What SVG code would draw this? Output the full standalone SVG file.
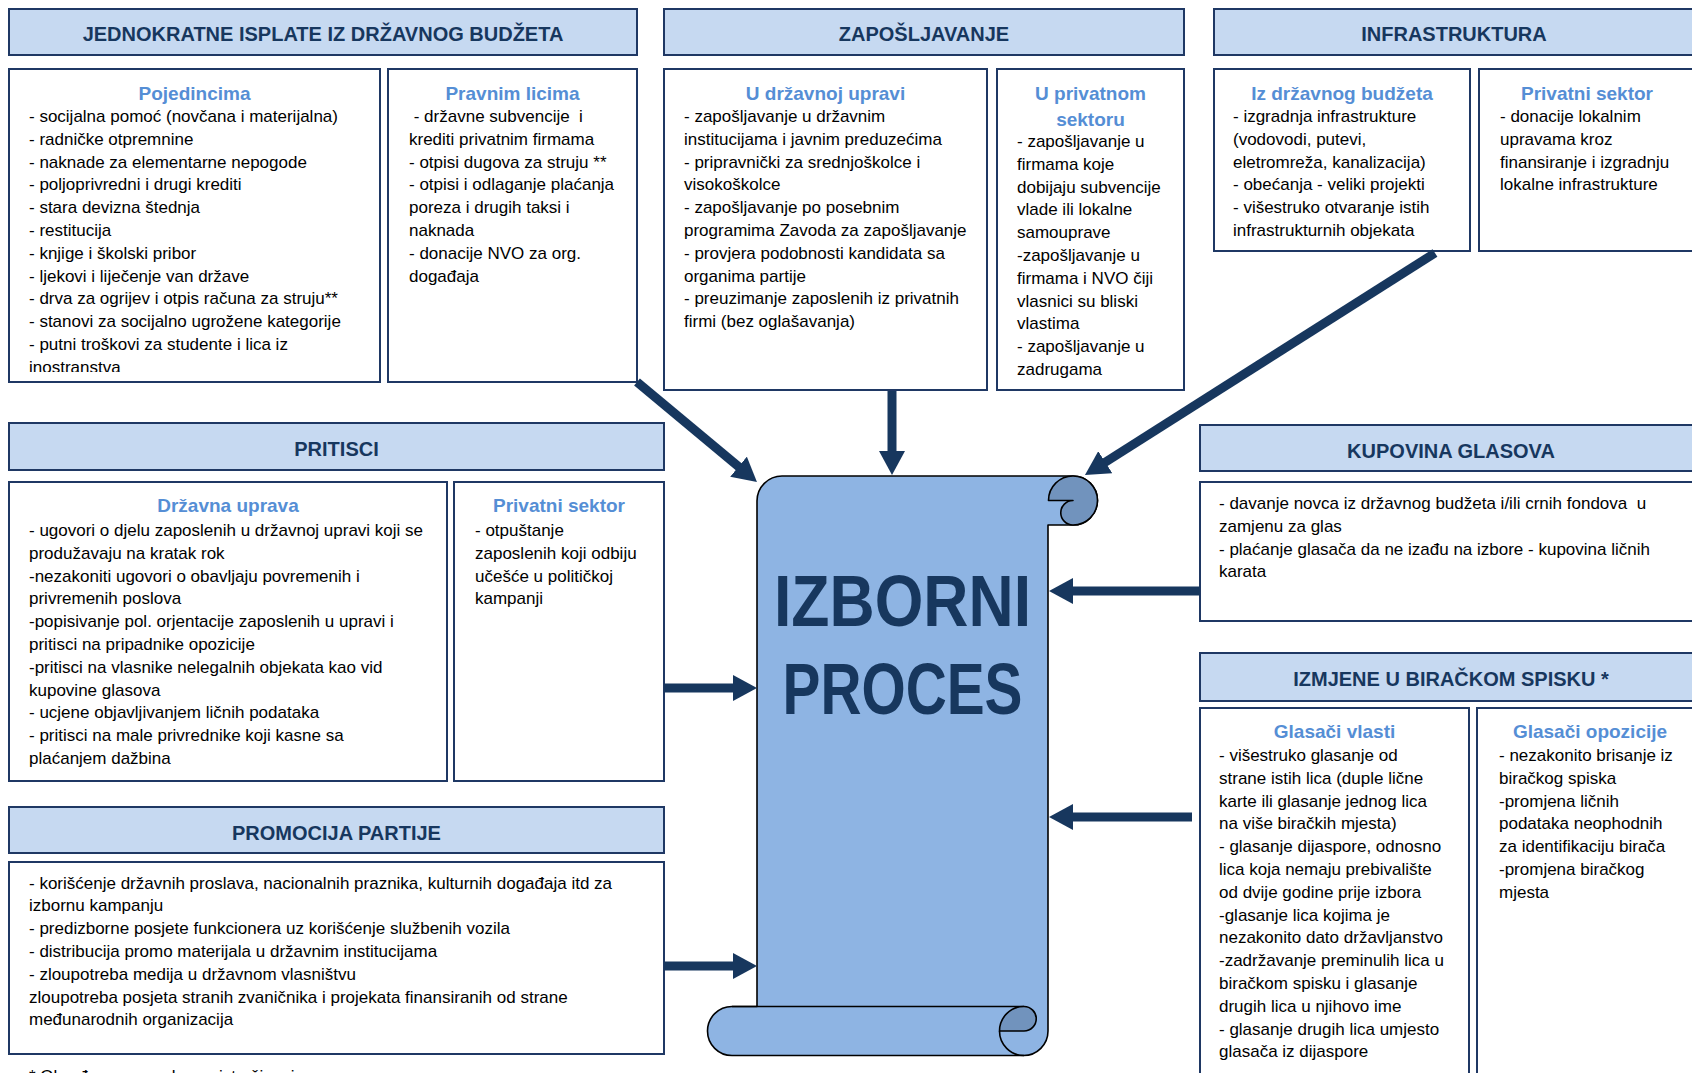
<svg xmlns="http://www.w3.org/2000/svg" width="1692" height="1073" viewBox="0 0 1692 1073">
<style>
.hdr{fill:#c6d9f1;stroke:#1f3864;stroke-width:2}
.box{fill:#ffffff;stroke:#1f3864;stroke-width:2}
.ht{font-family:"Liberation Sans",Arial,sans-serif;font-weight:bold;font-size:20px;fill:#17375e;text-anchor:middle}
.st{font-family:"Liberation Sans",Arial,sans-serif;font-weight:bold;font-size:19px;fill:#558ed5;text-anchor:middle}
.tx{font-family:"Liberation Sans",Arial,sans-serif;font-size:17px;fill:#000000}
.big{font-family:"Liberation Sans",Arial,sans-serif;font-weight:bold;font-size:72px;fill:#17375e;text-anchor:middle}
.conn line{stroke:#17375e;stroke-width:9;fill:none}
.scroll{fill:#8eb4e3;stroke:#000;stroke-width:1.6;stroke-linejoin:round}
.curl{fill:#7193bd;stroke:#000;stroke-width:1.6;stroke-linejoin:round}
.sl{fill:none;stroke:#000;stroke-width:1.6}
</style>
<defs>
<marker id="ah" markerUnits="userSpaceOnUse" markerWidth="26" markerHeight="26" refX="1" refY="13" orient="auto">
<path d="M0,0 L24,13 L0,26 Z" fill="#17375e"/>
</marker>
<clipPath id="clipPoj"><rect x="10" y="70" width="369" height="302"/></clipPath>
</defs>

<rect width="1692" height="1073" fill="#ffffff"/>

<g id="jednokratne">
<rect class="hdr" x="9" y="9" width="628" height="46"/>
<text class="ht" x="323" y="41">JEDNOKRATNE ISPLATE IZ DRŽAVNOG BUDŽETA</text>
</g>

<g id="pojedincima">
<rect class="box" x="9" y="69" width="371" height="313"/>
<text class="st" x="194.5" y="100">Pojedincima</text>
<text class="tx" clip-path="url(#clipPoj)">
<tspan x="29" y="122">- socijalna pomoć (novčana i materijalna)</tspan>
<tspan x="29" dy="22.8">- radničke otpremnine</tspan>
<tspan x="29" dy="22.8">- naknade za elementarne nepogode</tspan>
<tspan x="29" dy="22.8">- poljoprivredni i drugi krediti</tspan>
<tspan x="29" dy="22.8">- stara devizna štednja</tspan>
<tspan x="29" dy="22.8">- restitucija</tspan>
<tspan x="29" dy="22.8">- knjige i školski pribor</tspan>
<tspan x="29" dy="22.8">- ljekovi i liječenje van države</tspan>
<tspan x="29" dy="22.8">- drva za ogrijev i otpis računa za struju**</tspan>
<tspan x="29" dy="22.8">- stanovi za socijalno ugrožene kategorije</tspan>
<tspan x="29" dy="22.8">- putni troškovi za studente i lica iz</tspan>
<tspan x="29" dy="22.8">inostranstva</tspan>
</text>
</g>

<g id="pravnim-licima">
<rect class="box" x="388" y="69" width="249" height="313"/>
<text class="st" x="512.5" y="100">Pravnim licima</text>
<text class="tx" xml:space="preserve">
<tspan x="409" y="122"> - državne subvencije  i</tspan>
<tspan x="409" dy="22.8">krediti privatnim firmama</tspan>
<tspan x="409" dy="22.8">- otpisi dugova za struju **</tspan>
<tspan x="409" dy="22.8">- otpisi i odlaganje plaćanja</tspan>
<tspan x="409" dy="22.8">poreza i drugih taksi i</tspan>
<tspan x="409" dy="22.8">naknada</tspan>
<tspan x="409" dy="22.8">- donacije NVO za org.</tspan>
<tspan x="409" dy="22.8">događaja</tspan>
</text>
</g>

<g id="zaposljavanje">
<rect class="hdr" x="664" y="9" width="520" height="46"/>
<text class="ht" x="924" y="41">ZAPOŠLJAVANJE</text>
</g>

<g id="u-drzavnoj-upravi">
<rect class="box" x="664" y="69" width="323" height="321"/>
<text class="st" x="825.5" y="100">U državnoj upravi</text>
<text class="tx">
<tspan x="684" y="122">- zapošljavanje u državnim</tspan>
<tspan x="684" dy="22.8">institucijama i javnim preduzećima</tspan>
<tspan x="684" dy="22.8">- pripravnički za srednjoškolce i</tspan>
<tspan x="684" dy="22.8">visokoškolce</tspan>
<tspan x="684" dy="22.8">- zapošljavanje po posebnim</tspan>
<tspan x="684" dy="22.8">programima Zavoda za zapošljavanje</tspan>
<tspan x="684" dy="22.8">- provjera podobnosti kandidata sa</tspan>
<tspan x="684" dy="22.8">organima partije</tspan>
<tspan x="684" dy="22.8">- preuzimanje zaposlenih iz privatnih</tspan>
<tspan x="684" dy="22.8">firmi (bez oglašavanja)</tspan>
</text>
</g>

<g id="u-privatnom-sektoru">
<rect class="box" x="997" y="69" width="187" height="321"/>
<text class="st"><tspan x="1090.5" y="100">U privatnom</tspan><tspan x="1090.5" y="125.5">sektoru</tspan></text>
<text class="tx">
<tspan x="1017" y="147">- zapošljavanje u</tspan>
<tspan x="1017" dy="22.8">firmama koje</tspan>
<tspan x="1017" dy="22.8">dobijaju subvencije</tspan>
<tspan x="1017" dy="22.8">vlade ili lokalne</tspan>
<tspan x="1017" dy="22.8">samouprave</tspan>
<tspan x="1017" dy="22.8">-zapošljavanje u</tspan>
<tspan x="1017" dy="22.8">firmama i NVO čiji</tspan>
<tspan x="1017" dy="22.8">vlasnici su bliski</tspan>
<tspan x="1017" dy="22.8">vlastima</tspan>
<tspan x="1017" dy="22.8">- zapošljavanje u</tspan>
<tspan x="1017" dy="22.8">zadrugama</tspan>
</text>
</g>

<g id="infrastruktura">
<rect class="hdr" x="1214" y="9" width="490" height="46"/>
<text class="ht" x="1454" y="41">INFRASTRUKTURA</text>
</g>

<g id="iz-drzavnog-budzeta">
<rect class="box" x="1214" y="69" width="256" height="182"/>
<text class="st" x="1342" y="100">Iz državnog budžeta</text>
<text class="tx">
<tspan x="1233" y="122">- izgradnja infrastrukture</tspan>
<tspan x="1233" dy="22.8">(vodovodi, putevi,</tspan>
<tspan x="1233" dy="22.8">eletromreža, kanalizacija)</tspan>
<tspan x="1233" dy="22.8">- obećanja - veliki projekti</tspan>
<tspan x="1233" dy="22.8">- višestruko otvaranje istih</tspan>
<tspan x="1233" dy="22.8">infrastrukturnih objekata</tspan>
</text>
</g>

<g id="infra-privatni-sektor">
<rect class="box" x="1479" y="69" width="225" height="182"/>
<text class="st" x="1587" y="100">Privatni sektor</text>
<text class="tx">
<tspan x="1500" y="122">- donacije lokalnim</tspan>
<tspan x="1500" dy="22.8">upravama kroz</tspan>
<tspan x="1500" dy="22.8">finansiranje i izgradnju</tspan>
<tspan x="1500" dy="22.8">lokalne infrastrukture</tspan>
</text>
</g>

<g id="pritisci">
<rect class="hdr" x="9" y="423" width="655" height="47"/>
<text class="ht" x="336.5" y="456">PRITISCI</text>
</g>

<g id="drzavna-uprava">
<rect class="box" x="9" y="482" width="438" height="299"/>
<text class="st" x="228" y="512">Državna uprava</text>
<text class="tx">
<tspan x="29" y="536">- ugovori o djelu zaposlenih u državnoj upravi koji se</tspan>
<tspan x="29" dy="22.8">produžavaju na kratak rok</tspan>
<tspan x="29" dy="22.8">-nezakoniti ugovori o obavljaju povremenih i</tspan>
<tspan x="29" dy="22.8">privremenih poslova</tspan>
<tspan x="29" dy="22.8">-popisivanje pol. orjentacije zaposlenih u upravi i</tspan>
<tspan x="29" dy="22.8">pritisci na pripadnike opozicije</tspan>
<tspan x="29" dy="22.8">-pritisci na vlasnike nelegalnih objekata kao vid</tspan>
<tspan x="29" dy="22.8">kupovine glasova</tspan>
<tspan x="29" dy="22.8">- ucjene objavljivanjem ličnih podataka</tspan>
<tspan x="29" dy="22.8">- pritisci na male privrednike koji kasne sa</tspan>
<tspan x="29" dy="22.8">plaćanjem dažbina</tspan>
</text>
</g>

<g id="pritisci-privatni-sektor">
<rect class="box" x="454" y="482" width="210" height="299"/>
<text class="st" x="559" y="512">Privatni sektor</text>
<text class="tx">
<tspan x="475" y="536">- otpuštanje</tspan>
<tspan x="475" dy="22.8">zaposlenih koji odbiju</tspan>
<tspan x="475" dy="22.8">učešće u političkoj</tspan>
<tspan x="475" dy="22.8">kampanji</tspan>
</text>
</g>

<g id="promocija-partije">
<rect class="hdr" x="9" y="807" width="655" height="46"/>
<text class="ht" x="336.5" y="840">PROMOCIJA PARTIJE</text>
<rect class="box" x="9" y="862" width="655" height="192"/>
<text class="tx">
<tspan x="29" y="888.5">- korišćenje državnih proslava, nacionalnih praznika, kulturnih događaja itd za</tspan>
<tspan x="29" dy="22.8">izbornu kampanju</tspan>
<tspan x="29" dy="22.8">- predizborne posjete funkcionera uz korišćenje službenih vozila</tspan>
<tspan x="29" dy="22.8">- distribucija promo materijala u državnim institucijama</tspan>
<tspan x="29" dy="22.8">- zloupotreba medija u državnom vlasništvu</tspan>
<tspan x="29" dy="22.8">zloupotreba posjeta stranih zvaničnika i projekata finansiranih od strane</tspan>
<tspan x="29" dy="22.8">međunarodnih organizacija</tspan>
</text>
</g>

<g id="footnote">
<text class="tx" x="29" y="1082">* Obrađeno u posebnom istraživanju</text>
</g>

<g id="kupovina-glasova">
<rect class="hdr" x="1200" y="425" width="502" height="46"/>
<text class="ht" x="1451" y="458">KUPOVINA GLASOVA</text>
<rect class="box" x="1200" y="482" width="502" height="139"/>
<text class="tx" xml:space="preserve">
<tspan x="1219" y="509">- davanje novca iz državnog budžeta i/ili crnih fondova  u</tspan>
<tspan x="1219" dy="22.8">zamjenu za glas</tspan>
<tspan x="1219" dy="22.8">- plaćanje glasača da ne izađu na izbore - kupovina ličnih</tspan>
<tspan x="1219" dy="22.8">karata</tspan>
</text>
</g>

<g id="izmjene">
<rect class="hdr" x="1200" y="653" width="502" height="48"/>
<text class="ht" x="1451" y="685.5">IZMJENE U BIRAČKOM SPISKU *</text>
</g>

<g id="glasaci-vlasti">
<rect class="box" x="1200" y="708" width="269" height="380"/>
<text class="st" x="1334.5" y="738">Glasači vlasti</text>
<text class="tx">
<tspan x="1219" y="761">- višestruko glasanje od</tspan>
<tspan x="1219" dy="22.8">strane istih lica (duple lične</tspan>
<tspan x="1219" dy="22.8">karte ili glasanje jednog lica</tspan>
<tspan x="1219" dy="22.8">na više biračkih mjesta)</tspan>
<tspan x="1219" dy="22.8">- glasanje dijaspore, odnosno</tspan>
<tspan x="1219" dy="22.8">lica koja nemaju prebivalište</tspan>
<tspan x="1219" dy="22.8">od dvije godine prije izbora</tspan>
<tspan x="1219" dy="22.8">-glasanje lica kojima je</tspan>
<tspan x="1219" dy="22.8">nezakonito dato državljanstvo</tspan>
<tspan x="1219" dy="22.8">-zadržavanje preminulih lica u</tspan>
<tspan x="1219" dy="22.8">biračkom spisku i glasanje</tspan>
<tspan x="1219" dy="22.8">drugih lica u njihovo ime</tspan>
<tspan x="1219" dy="22.8">- glasanje drugih lica umjesto</tspan>
<tspan x="1219" dy="22.8">glasača iz dijaspore</tspan>
</text>
</g>

<g id="glasaci-opozicije">
<rect class="box" x="1477" y="708" width="225" height="380"/>
<text class="st" x="1590" y="738">Glasači opozicije</text>
<text class="tx">
<tspan x="1499" y="761">- nezakonito brisanje iz</tspan>
<tspan x="1499" dy="22.8">biračkog spiska</tspan>
<tspan x="1499" dy="22.8">-promjena ličnih</tspan>
<tspan x="1499" dy="22.8">podataka neophodnih</tspan>
<tspan x="1499" dy="22.8">za identifikaciju birača</tspan>
<tspan x="1499" dy="22.8">-promjena biračkog</tspan>
<tspan x="1499" dy="22.8">mjesta</tspan>
</text>
</g>

<g id="izborni-proces">
<path class="scroll" d="M757,1006.5 L757,501 A25,25 0 0 1 782,476 L1073,476 A24.5,24.5 0 0 1 1073,525 L1048,525 L1048,1031 A24.5,24.5 0 0 1 1023.5,1055.5 L732,1055.5 A24.5,24.5 0 0 1 732,1006.5 Z"/>
<path class="curl" d="M1073,476 A24.5,24.5 0 0 1 1073,525 A12.25,12.25 0 0 1 1073,500.5 L1048.5,500.5 A24.5,24.5 0 0 1 1073,476 Z"/>
<path class="sl" d="M732,1006.5 L1024,1006.5"/>
<path class="curl" d="M999.5,1031 A24.5,24.5 0 0 1 1024,1006.5 A12.25,12.25 0 0 1 1024,1031 Z"/>
<path class="sl" d="M999.5,1031 A24.5,24.5 0 0 0 1024,1055.5"/>
<text class="big" x="902.5" y="626" textLength="257" lengthAdjust="spacingAndGlyphs">IZBORNI</text>
<text class="big" x="902.5" y="714" textLength="240" lengthAdjust="spacingAndGlyphs">PROCES</text>
</g>

<g id="connectors" class="conn">
<line x1="637" y1="382" x2="739.3" y2="467.3" marker-end="url(#ah)"/>
<line x1="892" y1="391" x2="892" y2="452" marker-end="url(#ah)"/>
<line x1="1435" y1="253" x2="1104.4" y2="462.7" marker-end="url(#ah)"/>
<line x1="664" y1="688" x2="734" y2="688" marker-end="url(#ah)"/>
<line x1="664" y1="966" x2="734" y2="966" marker-end="url(#ah)"/>
<line x1="1200" y1="591" x2="1072" y2="591" marker-end="url(#ah)"/>
<line x1="1192" y1="817" x2="1072" y2="817" marker-end="url(#ah)"/>
</g>
</svg>
